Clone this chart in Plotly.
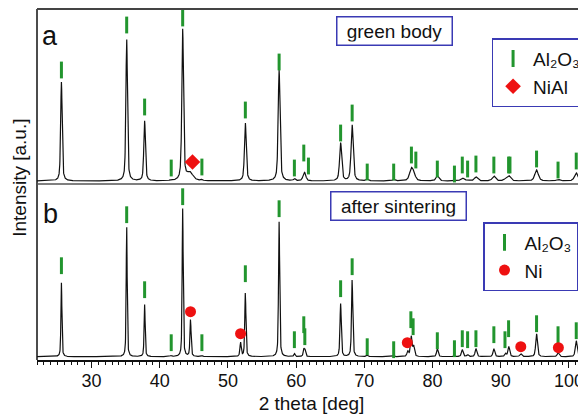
import numpy as np
import plotly.graph_objects as go

# ---------------- data ----------------
# Al2O3 (corundum) reflections, 2theta [deg]
al_pos = [25.58, 35.15, 37.78, 41.68, 43.36, 46.18, 52.55, 57.50, 59.74, 61.12,
          61.30, 66.52, 68.21, 70.42, 74.30, 76.87, 77.23, 80.70, 83.21, 84.36,
          85.14, 86.36, 88.99, 90.70, 91.18, 95.25, 98.40, 101.07]

# panel a (green body): peak heights (a.u.) and widths (deg)
al_h_a = [99, 142, 60, 1, 151, 1, 58, 111, 2, 5, 5, 38, 56, 1.5, 1.5, 11, 6,
          5, 0.5, 3, 1, 4, 5, 1.5, 5, 11, 1.5, 8]
al_w_a = [0.26, 0.27, 0.28, 0.3, 0.29, 0.3, 0.31, 0.32, 0.35, 0.4, 0.4, 0.36,
          0.37, 0.4, 0.45, 0.6, 0.6, 0.5, 0.5, 0.55, 0.55, 0.55, 0.55, 0.6, 0.6,
          0.6, 0.6, 0.6]
nial_pos = [44.40]
nial_h = [8]
nial_w = [1.1]

# panel b (after sintering)
al_h_b = [74, 131, 52, 1, 148, 1, 64, 135, 3, 7, 6, 53, 77, 1.5, 1, 20, 10,
          8, 1, 7, 2, 8, 8, 3, 10, 23, 2, 16]
al_w_b = [0.17, 0.17, 0.18, 0.2, 0.18, 0.2, 0.2, 0.2, 0.22, 0.22, 0.22, 0.22,
          0.22, 0.25, 0.25, 0.28, 0.28, 0.28, 0.3, 0.3, 0.3, 0.3, 0.3, 0.3, 0.3,
          0.3, 0.32, 0.32]
ni_pos = [44.51, 51.85, 76.37, 92.94, 98.45]
ni_h_b = [37, 14, 5, 3, 2]
ni_w_b = [0.2, 0.22, 0.3, 0.35, 0.35]

# phase markers (tick positions and heights, as drawn)
al_mark_x_a = [25.58, 35.15, 37.78, 41.68, 43.36, 46.18, 52.55, 57.50, 59.74, 61.12,
               61.80, 66.52, 68.21, 70.42, 74.30, 76.90, 77.55, 80.70, 83.21, 84.36,
               85.14, 86.36, 88.99, 91.15, 91.35, 95.25, 98.40, 101.07]
al_mark_y_a = [111, 156, 74, 13, 163, 14, 71, 119, 13, 28, 15, 48, 68, 9, 9, 26,
               21, 12, 7, 16, 12, 17, 16, 16, 16, 22, 11, 20]
nial_mark_x = [44.80]
nial_mark_y = [19]

al_mark_x_b = [25.58, 35.15, 37.78, 41.68, 43.36, 46.18, 52.55, 57.50, 59.74, 61.12,
               61.27, 66.52, 68.21, 70.42, 74.30, 76.82, 77.15, 80.70, 83.21, 84.36,
               85.14, 86.36, 88.99, 90.62, 91.15, 95.25, 98.40, 101.07]
al_mark_y_b = [91, 142, 67, 14, 160, 14, 83, 148, 17, 32, 20, 68, 90, 10, 7, 37,
               30, 16, 8, 18, 17, 18, 22, 17, 28, 33, 22, 26]
ni_mark_x = [44.51, 51.85, 76.30, 92.94, 98.45]
ni_mark_y = [45, 23, 14, 10, 9]

x_ticks = [30, 40, 50, 60, 70, 80, 90, 100]

# ---------------- profiles ----------------
tt = np.arange(22.0, 102.5, 0.02)


def pattern(pos, h, w, eta=0.55):
    y = np.zeros_like(tt)
    for p, a, fw in zip(pos, h, w):
        d = (tt - p) / fw
        y += a * (eta / (1 + 4 * d * d) + (1 - eta) * np.exp(-4 * np.log(2) * d * d))
    return y


ya = pattern(al_pos + nial_pos, al_h_a + nial_h, al_w_a + nial_w)
yb = pattern(al_pos + ni_pos, al_h_b + ni_h_b, al_w_b + ni_w_b)

GREEN = "#22952e"
RED = "#ee1111"
BLUE = "#3a3ab4"
FONT = "Liberation Sans, Arial, sans-serif"
AL2O3 = "Al\u2082O\u2083"

fig = go.Figure()
fig.add_trace(go.Scatter(x=tt, y=ya, mode="lines", line=dict(color="#111", width=1.2),
                         xaxis="x", yaxis="y2", showlegend=False, hoverinfo="skip"))
fig.add_trace(go.Scatter(x=tt, y=yb, mode="lines", line=dict(color="#111", width=1.2),
                         xaxis="x", yaxis="y", showlegend=False, hoverinfo="skip"))

bar = dict(symbol="line-ns", size=12, line=dict(color=GREEN, width=3), color=GREEN)
fig.add_trace(go.Scatter(x=al_mark_x_a, y=al_mark_y_a, mode="markers", marker=bar,
                         name=AL2O3, xaxis="x", yaxis="y2", legend="legend"))
fig.add_trace(go.Scatter(x=nial_mark_x, y=nial_mark_y, mode="markers",
                         marker=dict(symbol="diamond", size=12, color=RED),
                         name="NiAl", xaxis="x", yaxis="y2", legend="legend"))
fig.add_trace(go.Scatter(x=al_mark_x_b, y=al_mark_y_b, mode="markers", marker=bar,
                         name=AL2O3, xaxis="x", yaxis="y", legend="legend2"))
fig.add_trace(go.Scatter(x=ni_mark_x, y=ni_mark_y, mode="markers",
                         marker=dict(symbol="circle", size=11, color=RED),
                         name="Ni", xaxis="x", yaxis="y", legend="legend2"))

DIV = 0.5014
legend_style = dict(bgcolor="white", bordercolor=BLUE, borderwidth=1.5,
                    font=dict(family=FONT, size=19, color="#111"),
                    xanchor="left", yanchor="top", tracegroupgap=0, itemwidth=30)

# the page body adds an 8 px offset; the figure is sized to fill the rest
fig.update_layout(
    width=578, height=407,
    margin=dict(l=29, r=0, t=1, b=55, autoexpand=False),
    plot_bgcolor="white", paper_bgcolor="white",
    font=dict(family=FONT, size=18, color="#111"),
    xaxis=dict(range=[22.0, 102.5], tickvals=x_ticks, ticks="outside", ticklen=6,
               tickwidth=1.2, tickcolor="#111", showline=True, linecolor="#111",
               linewidth=1.5, showgrid=False, zeroline=False, anchor="y",
               tickfont=dict(size=18), automargin=False, ticklabelstandoff=-2,
               minor=dict(dtick=1, tick0=0, ticks="outside", ticklen=3,
                          tickcolor="#111", tickwidth=1, showgrid=False),
               title=dict(text="2 theta [deg]", font=dict(size=19), standoff=6)),
    yaxis=dict(domain=[0, DIV], range=[-3.3, 172.7], showticklabels=False,
               ticks="", showgrid=False, zeroline=False, showline=False,
               automargin=False),
    yaxis2=dict(domain=[DIV, 1], range=[-3, 172], showticklabels=False,
                ticks="", showgrid=False, zeroline=False, showline=False,
                anchor="x", automargin=False),
    legend=dict(x=0.828, y=0.917, **legend_style),
    legend2=dict(x=0.8124, y=0.393, **legend_style),
    shapes=[
        dict(type="line", xref="paper", yref="paper", x0=0, x1=0, y0=0, y1=1,
             line=dict(color="#111", width=1.5)),
        dict(type="line", xref="paper", yref="paper", x0=0, x1=1, y0=1, y1=1,
             line=dict(color="#444", width=2)),
        dict(type="line", xref="paper", yref="paper", x0=0, x1=1, y0=DIV, y1=DIV,
             line=dict(color="#555", width=1.5)),
    ],
    annotations=[
        dict(text="a", xref="paper", yref="paper", x=0.0237, y=0.923,
             xanchor="center", yanchor="middle", showarrow=False,
             font=dict(size=27, color="#111")),
        dict(text="b", xref="paper", yref="paper", x=0.0237, y=0.417,
             xanchor="center", yanchor="middle", showarrow=False,
             font=dict(size=27, color="#111")),
        dict(text="green body", xref="paper", yref="paper", x=0.651, y=0.936,
             xanchor="center", yanchor="middle",
             showarrow=False, font=dict(size=19, color="#111"), bgcolor="white",
             bordercolor=BLUE, borderwidth=1.5, borderpad=3, width=108),
        dict(text="after sintering", xref="paper", yref="paper", x=0.659, y=0.4387,
             xanchor="center", yanchor="middle",
             showarrow=False, font=dict(size=19, color="#111"), bgcolor="white",
             bordercolor=BLUE, borderwidth=1.5, borderpad=3, width=128),
        dict(text="Intensity [a.u.]", xref="paper", yref="paper", x=-0.031, y=0.519,
             xanchor="center", yanchor="middle",
             textangle=-90, showarrow=False, font=dict(size=19, color="#111")),
    ],
)

fig.write_html("out.html")
